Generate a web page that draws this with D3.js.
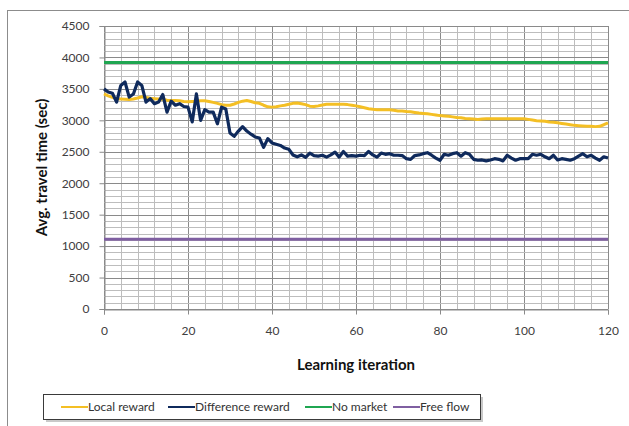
<!DOCTYPE html>
<html lang="en">
<head>
    <meta charset="UTF-8">
    <title>travel time</title>
    <script src="https://cdn.jsdelivr.net/npm/d3@7.8.5/dist/d3.min.js"></script>
    <style>
        body { margin: 0; background: #fff; }
        text { font-family: Lato, "Open Sans", sans-serif; }
    </style>
</head>
<body>
<div id="chart"></div>
<script type="text/javascript">
    // values, one per iteration 0..120
    const localReward = [3420, 3390, 3365, 3345, 3340, 3335, 3330, 3340, 3355, 3375,
        3365, 3350, 3345, 3340, 3335, 3320, 3315, 3315, 3310, 3300,
        3295, 3300, 3305, 3310, 3310, 3300, 3285, 3270, 3250, 3240,
        3240, 3260, 3285, 3305, 3315, 3300, 3280, 3270, 3240, 3215,
        3210, 3215, 3230, 3240, 3255, 3270, 3275, 3265, 3250, 3225,
        3220, 3230, 3245, 3255, 3255, 3255, 3255, 3255, 3250, 3240,
        3230, 3215, 3200, 3185, 3175, 3170, 3170, 3170, 3170, 3160,
        3150, 3150, 3140, 3135, 3125, 3115, 3110, 3105, 3095, 3085,
        3075, 3070, 3065, 3055, 3045, 3040, 3030, 3025, 3020, 3015,
        3020, 3025, 3025, 3025, 3025, 3025, 3025, 3025, 3025, 3025,
        3025, 3015, 3005, 2995, 2990, 2985, 2975, 2970, 2960, 2950,
        2940, 2930, 2920, 2915, 2910, 2905, 2905, 2900, 2905, 2930,
        2960];
    const differenceReward = [3500, 3450, 3430, 3290, 3555, 3610, 3370, 3420, 3610, 3555,
        3290, 3345, 3265, 3290, 3410, 3130, 3305, 3240, 3265, 3220,
        3210, 2975, 3420, 3000, 3170, 3130, 3130, 2945, 3210, 3180,
        2800, 2745, 2830, 2900, 2830, 2780, 2735, 2720, 2570, 2710,
        2640, 2620, 2600, 2560, 2540, 2450, 2420, 2450, 2410, 2480,
        2440, 2430, 2445, 2415, 2450, 2495, 2415, 2505, 2430, 2440,
        2430, 2445, 2440, 2505, 2450, 2415, 2480, 2460, 2470, 2445,
        2445, 2440, 2390, 2380, 2440, 2450, 2470, 2485, 2445, 2400,
        2365, 2460, 2445, 2470, 2485, 2430, 2485, 2460, 2380, 2365,
        2370, 2355, 2370, 2390, 2380, 2355, 2445, 2400, 2365, 2390,
        2390, 2390, 2460, 2445, 2460, 2420, 2390, 2445, 2370, 2390,
        2380, 2365, 2390, 2430, 2470, 2420, 2445, 2400, 2365, 2420,
        2400];
    const noMarket = 3920;
    const freeFlow = 1110;
    const xTicks = [0, 20, 40, 60, 80, 100, 120];
    const yTicks = [0, 500, 1000, 1500, 2000, 2500, 3000, 3500, 4000, 4500];

    const width = 629, height = 426;
    const plot = {left: 104, right: 608, top: 26, bottom: 309};

    const svg = d3.select('#chart').append('svg')
        .attr('width', width).attr('height', height);

    // outer chart frame, cut off at the right and bottom
    svg.append('rect').attr('x', 7.5).attr('y', 10.5)
        .attr('width', 700).attr('height', 500)
        .attr('fill', 'none').attr('stroke', '#8c8c8c');

    const x = d3.scaleLinear().domain([0, 120]).range([plot.left, plot.right]);
    const y = d3.scaleLinear().domain([0, 4500]).range([plot.bottom, plot.top]);

    // grid: minor every 4 iterations / 100 sec, major at ticks
    const g = svg.append('g');
    g.selectAll('.vmin').data(d3.range(0, 121, 4)).join('line')
        .attr('x1', d => Math.round(x(d)) + 0.5).attr('x2', d => Math.round(x(d)) + 0.5)
        .attr('y1', plot.top).attr('y2', plot.bottom)
        .attr('stroke', d => d % 20 === 0 ? '#8a8a8a' : '#bdbdbd');
    g.selectAll('.hmin').data(d3.range(0, 4501, 100)).join('line')
        .attr('y1', d => Math.round(y(d)) + 0.5).attr('y2', d => Math.round(y(d)) + 0.5)
        .attr('x1', plot.left).attr('x2', plot.right)
        .attr('stroke', d => d % 500 === 0 ? '#8a8a8a' : '#bdbdbd');

    // axes
    const yAxis = svg.append('g')
        .attr('transform', `translate(${plot.left + 0.5},0)`)
        .call(d3.axisLeft(y).tickValues(yTicks).tickSize(5).tickPadding(10).tickFormat(d3.format('d')));
    const xAxis = svg.append('g')
        .attr('transform', `translate(0,${plot.bottom + 0.5})`)
        .call(d3.axisBottom(x).tickValues(xTicks).tickSize(5).tickPadding(12));
    [xAxis, yAxis].forEach(a => {
        a.select('.domain').attr('stroke', '#8a8a8a');
        a.selectAll('.tick line').attr('stroke', '#8a8a8a');
        a.selectAll('.tick text').attr('fill', '#404040').style('font-size', '12px');
    });

    // series
    const line = d3.line().x((d, i) => x(i)).y(d => y(d));
    svg.append('line')
        .attr('x1', plot.left).attr('x2', plot.right)
        .attr('y1', y(freeFlow)).attr('y2', y(freeFlow))
        .attr('stroke', '#7f5fa1').attr('stroke-width', 3);
    svg.append('line')
        .attr('x1', plot.left).attr('x2', plot.right)
        .attr('y1', y(noMarket)).attr('y2', y(noMarket))
        .attr('stroke', '#1fa651').attr('stroke-width', 3);
    svg.append('path').attr('d', line(localReward))
        .attr('fill', 'none').attr('stroke', '#f4bf24').attr('stroke-width', 3)
        .attr('stroke-linejoin', 'round');
    svg.append('path').attr('d', line(differenceReward))
        .attr('fill', 'none').attr('stroke', '#0f2a5c').attr('stroke-width', 3.2)
        .attr('stroke-linejoin', 'round');

    // axis titles
    svg.append('text').attr('x', (plot.left + plot.right) / 2).attr('y', 370)
        .attr('text-anchor', 'middle').style('font-size', '15px').style('font-weight', 'bold')
        .attr('fill', '#111').text('Learning iteration');
    svg.append('text')
        .attr('transform', `translate(47,${(plot.top + plot.bottom) / 2}) rotate(-90)`)
        .attr('text-anchor', 'middle').style('font-size', '15px').style('font-weight', 'bold')
        .attr('fill', '#111').text('Avg. travel time (sec)');

    // legend
    const legendItems = [
        {name: 'Local reward', color: '#f4bf24', x: 61},
        {name: 'Difference reward', color: '#0f2a5c', x: 168},
        {name: 'No market', color: '#1fa651', x: 305},
        {name: 'Free flow', color: '#7f5fa1', x: 393}
    ];
    svg.append('rect').attr('x', 46).attr('y', 397).attr('width', 437).attr('height', 25)
        .attr('fill', '#bbb').attr('opacity', 0.8);
    svg.append('rect').attr('x', 43.5).attr('y', 394.5).attr('width', 437).attr('height', 25)
        .attr('fill', '#fff').attr('stroke', '#3a3a3a');
    const lg = svg.append('g').selectAll('g').data(legendItems).join('g')
        .attr('transform', d => `translate(${d.x},407)`);
    lg.append('line').attr('x1', 0).attr('x2', 27)
        .attr('stroke', d => d.color).attr('stroke-width', 2);
    lg.append('text').attr('x', 27).attr('dy', '0.35em')
        .style('font-size', '12px').attr('fill', '#333').text(d => d.name);
</script>
</body>
</html>
